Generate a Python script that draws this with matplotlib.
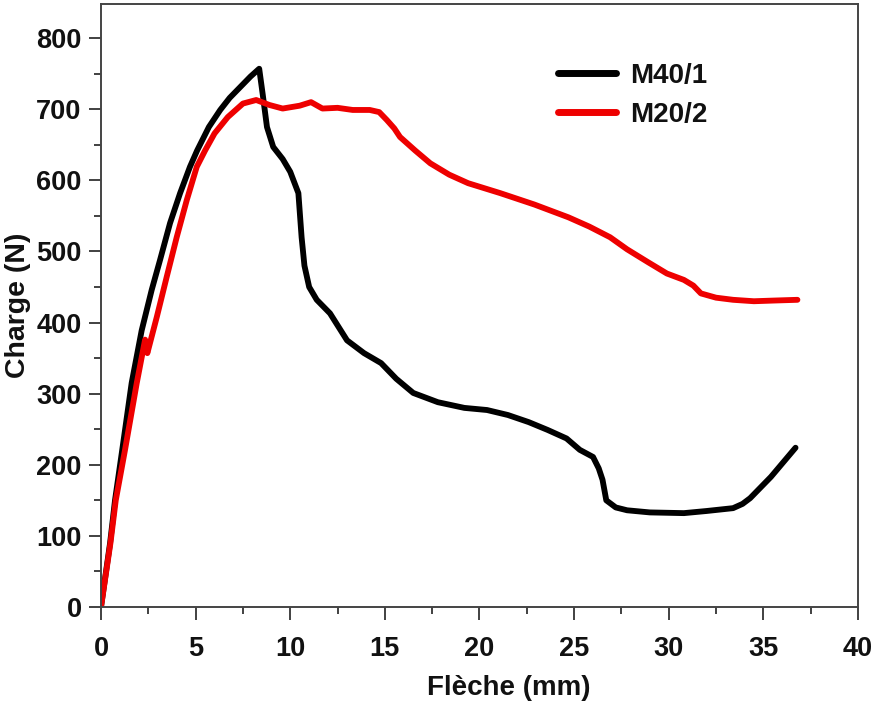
import matplotlib
matplotlib.use("Agg")
import matplotlib.pyplot as plt
from matplotlib.ticker import MultipleLocator

# M40/1 (black)
m40_x = [0.0, 0.48, 0.74, 1.09, 1.62, 2.15, 2.68, 3.12, 3.65, 4.18, 4.7, 5.08, 5.7, 6.3, 6.8,
         7.35, 7.9, 8.36, 8.55, 8.77, 9.1, 9.6, 10.0, 10.43, 10.6, 10.75, 11.0, 11.4, 12.1,
         13.0, 13.9, 14.8, 15.6, 16.5, 17.8, 19.2, 20.4, 21.5, 22.6, 23.6, 24.6, 25.3, 26.0,
         26.3, 26.5, 26.7, 27.2, 27.8, 29.0, 30.8, 32.0, 33.4, 33.9, 34.3, 35.4, 36.7]
m40_y = [0, 90, 150, 215, 315, 389, 446, 488, 540, 582, 619, 642, 675, 699, 716,
         731, 746, 757, 720, 675, 647, 630, 612, 582, 520, 480, 450, 432, 413,
         375, 357, 343, 321, 301, 288, 280, 277, 270, 260, 249, 237, 221, 211,
         195, 179, 150, 140, 136, 133, 132, 135, 139, 145, 153, 183, 224]

# M20/2 (red)
m20_x = [0.0, 0.5, 0.78, 1.27, 1.89, 2.33, 2.45, 2.95, 3.47, 4.0, 4.53, 5.06, 5.5, 6.0,
         6.7, 7.5, 8.2, 8.9, 9.6, 10.5, 11.1, 11.7, 12.5, 13.3, 14.2, 14.7, 15.1, 15.5,
         15.8, 16.6, 17.4, 18.4, 19.4, 21.1, 22.9, 24.7, 25.8, 26.9, 27.8, 28.9, 29.9, 30.8,
         31.3, 31.7, 32.5, 33.4, 34.5, 35.6, 36.8]
m20_y = [0, 90, 150, 221, 315, 376, 357, 408, 464, 520, 572, 619, 642, 666,
         689, 708, 713, 706, 701, 705, 710, 701, 702, 699, 699, 696, 685, 673,
         661, 642, 624, 608, 596, 582, 566, 548, 535, 520, 503, 485, 469, 460,
         452, 441, 435, 432, 430, 431, 432]

fig = plt.figure(figsize=(8.79, 7.04), dpi=100)
ax = fig.add_axes([0.1149, 0.1378, 0.8612, 0.8565])

ax.plot(m40_x, m40_y, color="black", lw=4.2, label="M40/1",
        solid_capstyle="round", solid_joinstyle="round")
ax.plot(m20_x, m20_y, color="#ee0000", lw=4.2, label="M20/2",
        solid_capstyle="round", solid_joinstyle="round")

ax.set_xlim(0, 40)
ax.set_ylim(0, 848)
ax.xaxis.set_major_locator(MultipleLocator(5))
ax.xaxis.set_minor_locator(MultipleLocator(2.5))
ax.yaxis.set_major_locator(MultipleLocator(100))
ax.yaxis.set_minor_locator(MultipleLocator(50))

font = "Liberation Sans"
ax.tick_params(which="major", direction="out", length=9, width=1.3, color="#333333",
               labelsize=19.5, top=False, right=False)
ax.tick_params(axis="y", which="major", pad=5)
ax.tick_params(axis="x", which="major", pad=12)
ax.tick_params(which="minor", direction="out", length=5, width=1.3, color="#333333",
               top=False, right=False)
for lab in ax.get_xticklabels() + ax.get_yticklabels():
    lab.set_fontfamily(font)
    lab.set_fontweight("bold")
    lab.set_color("#111111")

for s in ax.spines.values():
    s.set_color("#444444")
    s.set_linewidth(1.4)

ax.set_xlabel("Flèche (mm)", fontsize=20, fontweight="bold", family=font, x=0.539,
              labelpad=9, color="#111111")
ax.set_ylabel("Charge (N)", fontsize=20.5, fontweight="bold", family=font, labelpad=4,
              color="#111111")

leg = ax.legend(loc="upper left", bbox_to_anchor=(0.585, 0.925), frameon=False,
                prop={"family": font, "weight": "bold", "size": 20},
                handlelength=2.1, handletextpad=0.5, labelspacing=0.45, borderpad=0)
for line in leg.get_lines():
    line.set_linewidth(5)
for t in leg.get_texts():
    t.set_color("#111111")

fig.savefig("out.png", dpi=100)
